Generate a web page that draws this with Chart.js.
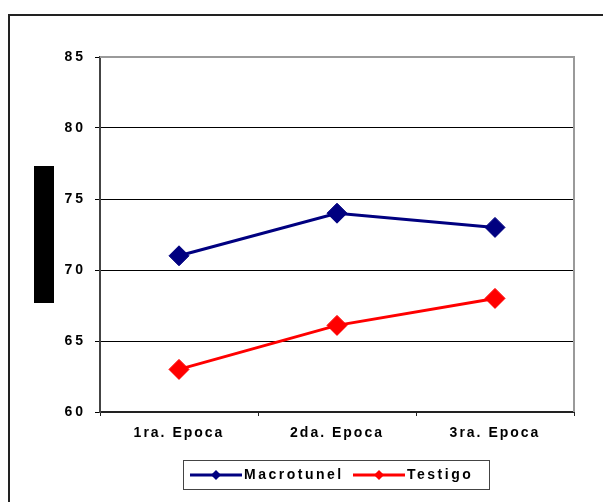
<!DOCTYPE html>
<html>
<head>
<meta charset="utf-8">
<style>
  html, body { margin: 0; padding: 0; background: #fff; }
  #wrap { width: 603px; height: 502px; }
</style>
<script src="https://cdn.jsdelivr.net/npm/chart.js@4.4.1/dist/chart.umd.min.js"></script>
</head>
<body>
<div id="wrap"><canvas id="c" width="603" height="502"></canvas></div>
<script>
// Categories, series and axis ticks
const epocas = ['1ra. Epoca', '2da. Epoca', '3ra. Epoca'];
const macrotunel = [71, 74, 73];
const testigo = [63, 66.1, 68];
const yTicks = [60, 65, 70, 75, 80, 85];

const NAVY = '#000080';
const RED = '#ff0000';
const FONT = '"Liberation Sans", Arial, sans-serif';
const SPACING = '2px';
const Y_SPACING = '3px';
const LEGEND_SPACING = '2.5px';

// Background frame, dark side block, plot borders and legend box
const decor = {
  id: 'decor',
  beforeDraw(chart) {
    const ctx = chart.ctx;
    ctx.save();
    ctx.fillStyle = '#fff';
    ctx.fillRect(0, 0, chart.width, chart.height);
    // outer frame (top and left edges)
    ctx.strokeStyle = '#222';
    ctx.lineWidth = 2;
    ctx.beginPath();
    ctx.moveTo(chart.width, 15);
    ctx.lineTo(9, 15);
    ctx.lineTo(9, chart.height);
    ctx.stroke();
    // side block
    ctx.fillStyle = '#000';
    ctx.fillRect(34, 166, 20, 137);
    ctx.restore();
    ctx.letterSpacing = SPACING;
  },
  beforeDatasetsDraw(chart) {
    const ctx = chart.ctx;
    const a = chart.chartArea;
    ctx.save();
    ctx.strokeStyle = '#9a9a9a';
    ctx.lineWidth = 2;
    ctx.beginPath();
    ctx.moveTo(a.left, a.top);
    ctx.lineTo(a.right, a.top);
    ctx.lineTo(a.right, a.bottom);
    ctx.stroke();
    ctx.restore();
  },
  afterDatasetsDraw(chart) {
    // value labels of the y axis are drawn after this, with wider spacing
    chart.ctx.letterSpacing = Y_SPACING;
  },
  afterDraw(chart) {
    const ctx = chart.ctx;
    ctx.save();
    ctx.letterSpacing = LEGEND_SPACING;
    // legend box
    ctx.strokeStyle = '#444';
    ctx.lineWidth = 1;
    ctx.strokeRect(183.5, 460.5, 306, 29);
    const items = [
      { label: chart.data.datasets[0].label, color: NAVY, x0: 190 },
      { label: chart.data.datasets[1].label, color: RED, x0: 353 }
    ];
    const y = 475;
    ctx.font = 'bold 14px ' + FONT;
    ctx.textBaseline = 'middle';
    ctx.textAlign = 'left';
    items.forEach(it => {
      ctx.strokeStyle = it.color;
      ctx.fillStyle = it.color;
      ctx.lineWidth = 3;
      ctx.beginPath();
      ctx.moveTo(it.x0, y);
      ctx.lineTo(it.x0 + 52, y);
      ctx.stroke();
      const cx = it.x0 + 26, r = 5;
      ctx.beginPath();
      ctx.moveTo(cx, y - r);
      ctx.lineTo(cx + r, y);
      ctx.lineTo(cx, y + r);
      ctx.lineTo(cx - r, y);
      ctx.closePath();
      ctx.fill();
      ctx.fillStyle = '#000';
      ctx.fillText(it.label, it.x0 + 54, y);
    });
    ctx.restore();
  }
};

const tickFont = { family: FONT, size: 14, weight: 'bold' };

new Chart(document.getElementById('c'), {
  type: 'line',
  data: {
    labels: epocas,
    datasets: [
      {
        label: 'Macrotunel',
        data: macrotunel,
        borderColor: NAVY,
        backgroundColor: NAVY,
        borderWidth: 3,
        tension: 0,
        pointStyle: 'rectRot',
        pointRadius: 10,
        pointBorderWidth: 1,
        pointBackgroundColor: NAVY,
        pointBorderColor: NAVY
      },
      {
        label: 'Testigo',
        data: testigo,
        borderColor: RED,
        backgroundColor: RED,
        borderWidth: 3,
        tension: 0,
        pointStyle: 'rectRot',
        pointRadius: 10,
        pointBorderWidth: 1,
        pointBackgroundColor: RED,
        pointBorderColor: RED
      }
    ]
  },
  options: {
    responsive: false,
    animation: false,
    devicePixelRatio: 1,
    layout: { padding: { top: 57, right: 29, left: 0, bottom: 0 } },
    plugins: { legend: { display: false }, tooltip: { enabled: false } },
    scales: {
      x: {
        offset: true,
        grid: { offset: true, drawOnChartArea: false, drawTicks: true, tickLength: 4, color: '#222', tickColor: '#222' },
        border: { color: '#222', width: 2 },
        ticks: { font: tickFont, color: '#000', padding: 9, maxRotation: 0, autoSkip: false },
        afterFit(s) { s.height = 90; }
      },
      y: {
        min: 60,
        max: 85,
        afterBuildTicks(s) { s.ticks = yTicks.map(v => ({ value: v })); },
        grid: {
          color: c => (c.tick && c.tick.value === 85) ? 'rgba(0,0,0,0)' : '#000',
          tickColor: '#000',
          tickLength: 5,
          lineWidth: 1
        },
        border: { color: '#444', width: 2 },
        ticks: { font: tickFont, color: '#000', padding: 9, z: 1 },
        afterFit(s) { s.width = 100; }
      }
    }
  },
  plugins: [decor]
});
</script>
</body>
</html>
